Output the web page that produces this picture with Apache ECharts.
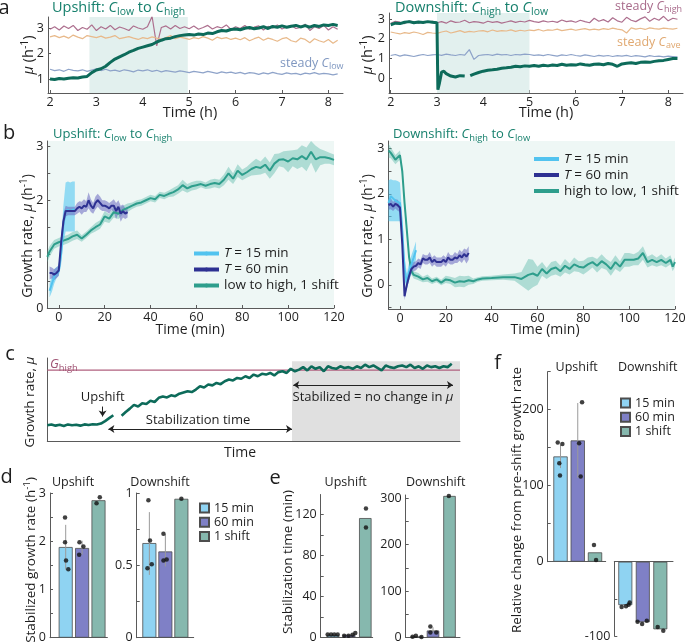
<!DOCTYPE html>
<html><head><meta charset="utf-8">
<script src="https://cdn.jsdelivr.net/npm/echarts@6/dist/echarts.min.js"></script>
<style>html,body{margin:0;padding:0;background:#fff}#c{width:685px;height:642px}</style>
</head><body><div id="c"></div><script>
const FONT = "'Open Sans','Noto Sans','DejaVu Sans',sans-serif";
const INK = '#1e1e1e', AX = '#5a5a5a', TEAL_T = '#17806d';

// ---------- panel a data ----------
const aTime = [2.0,2.1,2.2,2.3,2.4,2.5,2.6,2.7,2.8,2.9,3.0,3.1,3.2,3.3,3.4,3.5,3.6,3.7,3.8,3.9,4.0,4.1,4.2,4.3,4.4,4.5,4.6,4.7,4.8,4.9,5.0,5.1,5.2,5.3,5.4,5.5,5.6,5.7,5.8,5.9,6.0,6.1,6.2,6.3,6.4,6.5,6.6,6.7,6.8,6.9,7.0,7.1,7.2,7.3,7.4,7.5,7.6,7.7,7.8,7.9,8.0,8.1,8.2];
const hTicks = [2,3,4,5,6,7,8];
const upSteadyHigh = [2.95,3.05,2.92,3.08,2.98,3.1,2.9,3.02,2.95,3.12,2.9,3.05,2.96,3.1,2.93,3.04,2.98,2.9,3.08,3.0,2.95,3.05,3.45,2.3,3.02,3.08,2.96,3.1,2.98,3.05,2.97,3.08,2.95,3.02,3.1,2.96,3.05,3.0,3.12,2.94,3.05,2.98,3.1,2.95,3.03,3.08,2.92,3.06,3.0,3.12,2.96,3.04,3.1,2.98,3.02,3.15,2.9,3.05,2.98,3.1,2.92,3.05,2.95];
const upSteadyAve = [2.65,2.7,2.62,2.68,2.6,2.72,2.64,2.58,2.7,2.66,2.62,2.68,2.6,2.64,2.7,2.58,2.62,2.66,2.6,2.55,2.62,2.58,2.65,2.6,2.55,2.62,2.7,2.58,2.64,2.6,2.55,2.62,2.58,2.66,2.6,2.52,2.64,2.58,2.62,2.55,2.6,2.54,2.62,2.5,2.58,2.64,2.52,2.6,2.55,2.48,2.58,2.62,2.5,2.45,2.6,2.55,2.42,2.58,2.5,2.44,2.55,2.4,2.52];
const upSteadyLow = [1.38,1.33,1.36,1.3,1.38,1.34,1.32,1.36,1.3,1.35,1.4,1.33,1.38,1.32,1.35,1.3,1.36,1.33,1.28,1.35,1.32,1.36,1.3,1.34,1.28,1.33,1.3,1.27,1.32,1.29,1.25,1.3,1.27,1.24,1.3,1.26,1.22,1.28,1.24,1.27,1.22,1.26,1.2,1.25,1.23,1.18,1.24,1.2,1.26,1.21,1.18,1.24,1.2,1.22,1.17,1.23,1.2,1.25,1.19,1.22,1.2,1.16,1.2];
const upMain = [1.0,0.98,1.02,1.0,1.03,1.05,1.04,1.08,1.1,1.25,1.35,1.4,1.5,1.65,1.78,1.87,1.95,2.05,2.12,2.2,2.25,2.3,2.35,2.45,2.52,2.58,2.6,2.66,2.7,2.72,2.74,2.72,2.76,2.74,2.8,2.78,2.85,2.9,2.88,2.94,2.96,2.93,2.99,3.02,2.97,3.0,3.05,2.98,3.06,3.03,3.08,3.03,3.07,3.1,3.04,3.09,3.03,3.1,3.06,3.12,3.1,3.14,3.1];
const dnSteadyHigh = [2.8,2.9,2.85,2.78,2.92,2.86,2.8,2.88,2.84,2.9,2.82,2.88,2.8,2.92,2.84,2.86,2.95,2.82,2.88,2.85,2.8,2.9,2.84,2.88,2.8,2.86,2.92,2.84,2.9,2.86,2.94,2.88,2.84,2.92,2.86,2.9,2.84,2.96,2.88,2.92,2.85,2.95,2.88,2.82,3.05,2.9,2.98,2.86,3.08,2.92,2.85,3.1,2.95,2.88,3.02,3.12,2.9,3.05,2.95,3.15,2.92,3.05,3.0];
const dnSteadyAve = [2.35,2.3,2.25,2.32,2.28,2.35,2.3,2.22,2.33,2.3,2.28,2.35,2.4,2.3,2.36,2.42,2.33,2.38,2.35,2.4,2.42,2.36,2.45,2.38,2.42,2.4,2.46,2.38,2.44,2.4,2.45,2.42,2.48,2.4,2.46,2.44,2.5,2.42,2.46,2.5,2.44,2.48,2.52,2.46,2.5,2.46,2.52,2.48,2.55,2.5,2.46,2.3,2.56,2.5,2.54,2.48,2.56,2.52,2.5,2.55,2.52,2.5,2.54];
const dnSteadyLow = [1.15,1.2,1.12,1.18,1.14,1.1,1.16,1.2,1.15,1.18,1.2,1.16,1.22,1.18,1.15,1.2,1.17,1.45,0.95,1.15,1.18,1.2,1.16,1.22,1.18,1.2,1.15,1.2,1.18,1.22,1.2,1.16,1.18,1.14,1.2,1.16,1.12,1.18,1.15,1.2,1.15,1.12,1.18,1.14,1.1,1.16,1.12,1.15,1.1,1.14,1.12,1.16,1.1,1.14,1.12,1.08,1.14,1.1,1.12,1.08,1.12,1.1,1.08];
const downT = [2.0,2.1,2.2,2.3,2.4,2.5,2.6,2.7,2.8,2.9,3.0,3.02,3.05,3.1,3.15,3.2,3.3,3.4,3.5,3.6,3.66,3.72,3.8,3.9,4.0,4.1,4.2,4.3,4.4,4.5,4.6,4.7,4.8,4.9,5.0,5.1,5.2,5.3,5.4,5.5,5.6,5.7,5.8,5.9,6.0,6.1,6.2,6.3,6.4,6.5,6.6,6.7,6.8,6.9,7.0,7.1,7.2,7.3,7.4,7.5,7.6,7.7,7.8,7.9,8.0,8.1,8.2];
const downMain = [2.72,2.8,2.78,2.85,2.88,2.82,2.86,2.84,2.88,2.85,2.82,-0.6,-0.3,0.3,0.35,0.22,0.1,0.05,0.12,0.1,null,0.12,0.2,0.28,0.35,0.4,0.42,0.45,0.5,0.52,0.55,0.6,0.58,0.62,0.6,0.64,0.6,0.65,0.62,0.66,0.64,0.7,0.65,0.68,0.66,0.72,0.68,0.65,0.7,0.72,0.68,0.74,0.7,0.6,0.72,0.75,0.78,0.74,0.8,0.82,0.8,0.85,0.88,0.9,0.95,1.0,1.0];
const aUpShade = [2.85, 4.97], aDnShade = [3.0, 5.0];

// ---------- panel b data ----------
const minTicks = [0,20,40,60,80,100,120];
const upOneT = [-5,-4,-2,0,2,4,6,8,10,12,14,16,18,20,22,24,26,28,30,32,34,36,38,40,42,44,46,48,50,52,54,56,58,60,62,64,66,68,70,72,74,76,78,80,82,84,86,88,90,92,94,96,98,100,102,104,106,108,110,112,114,116,118,120];
const upOneMu = [0.95,1.05,1.18,1.22,1.25,1.28,1.33,1.36,1.29,1.36,1.44,1.5,1.55,1.7,1.66,1.78,1.75,1.82,1.86,1.9,1.94,1.96,2.0,2.04,2.02,2.1,2.08,2.12,2.15,2.2,2.28,2.22,2.26,2.28,2.3,2.27,2.3,2.32,2.3,2.38,2.5,2.4,2.55,2.47,2.52,2.58,2.62,2.6,2.66,2.55,2.68,2.75,2.76,2.72,2.78,2.76,2.82,2.76,2.9,2.76,2.8,2.8,2.78,2.75];
const upOneSem = [0.1,0.1,0.08,0.08,0.08,0.08,0.08,0.08,0.06,0.06,0.06,0.08,0.08,0.1,0.08,0.1,0.1,0.08,0.08,0.06,0.06,0.06,0.06,0.06,0.06,0.06,0.06,0.06,0.08,0.08,0.1,0.08,0.08,0.08,0.06,0.06,0.08,0.08,0.08,0.1,0.12,0.1,0.12,0.1,0.1,0.12,0.15,0.12,0.15,0.15,0.18,0.12,0.15,0.2,0.15,0.18,0.2,0.22,0.2,0.25,0.15,0.12,0.1,0.1];
const t15UpT = [-4,-3,-2,-1,0,1,2,3,4,5,6,7];
const t15UpMu = [0.32,0.45,0.58,0.64,0.68,1.0,1.55,1.8,1.82,1.8,1.82,1.83];
const t15UpLo = [0.2,0.3,0.45,0.55,0.6,0.8,1.2,1.42,1.42,1.42,1.42,1.42];
const t15UpHi = [0.45,0.6,0.72,0.76,0.78,1.2,1.9,2.33,2.35,2.33,2.35,2.35];
const t60UpT = [-4,-3,-2,-1,0,1,2,3,4,5,6,7,8,9,10,11,12,13,14,15,16,17,18,19,20,21,22,23,24,25,26,27,28,29,30];
const t60UpMu = [0.65,0.65,0.62,0.65,0.7,1.2,1.6,1.8,1.8,1.8,1.8,1.8,1.85,1.88,1.85,1.9,1.88,2.0,1.9,1.85,1.95,2.0,1.95,1.9,1.9,1.88,1.85,1.9,1.9,1.8,1.88,1.75,1.8,1.75,1.78];
const t60UpSem = [0.12,0.1,0.1,0.1,0.1,0.15,0.15,0.1,0.08,0.08,0.08,0.08,0.1,0.1,0.12,0.12,0.1,0.15,0.12,0.1,0.12,0.12,0.12,0.1,0.1,0.1,0.1,0.08,0.12,0.15,0.12,0.15,0.12,0.1,0.1];
const downOneT = [-5,-4,-2,0,1,2,3,4,5,6,8,10,12,14,16,18,20,22,24,26,28,30,32,34,36,40,45,50,53,56,58,60,62,64,66,68,70,72,74,76,78,80,82,84,86,88,90,92,94,96,98,100,102,104,106,108,110,112,114,116,118,119,120];
const downOneMu = [2.95,2.9,2.75,2.85,2.5,1.8,1.2,0.6,0.3,0.22,0.18,0.12,0.15,0.08,0.12,0.05,0.12,0.1,0.05,0.08,0.07,0.1,0.08,0.12,0.14,0.15,0.17,0.17,0.13,0.22,0.25,0.2,0.35,0.25,0.35,0.38,0.3,0.42,0.35,0.45,0.4,0.38,0.45,0.5,0.42,0.52,0.45,0.35,0.5,0.4,0.55,0.55,0.55,0.58,0.7,0.5,0.55,0.5,0.55,0.48,0.55,0.4,0.5];
const downOneSem = [0.15,0.12,0.1,0.1,0.1,0.1,0.1,0.1,0.08,0.08,0.08,0.06,0.08,0.06,0.06,0.06,0.08,0.08,0.1,0.12,0.12,0.1,0.06,0.05,0.05,0.05,0.06,0.08,0.15,0.35,0.3,0.2,0.15,0.12,0.15,0.15,0.12,0.15,0.12,0.15,0.12,0.15,0.15,0.12,0.15,0.15,0.12,0.15,0.15,0.12,0.15,0.15,0.12,0.15,0.15,0.12,0.12,0.1,0.12,0.1,0.1,0.1,0.1];
const t15DnT = [-5,-4,-3,-2,-1,0,1,2,3,4,5,6,7];
const t15DnMu = [1.8,1.95,1.9,1.85,1.82,1.8,1.2,0.35,0.05,0.3,0.45,0.6,0.76];
const t15DnLo = [1.4,1.4,1.4,1.4,1.4,1.4,0.9,0.1,-0.1,0.1,0.25,0.4,0.55];
const t15DnHi = [2.3,2.32,2.3,2.3,2.28,2.25,1.5,0.6,0.25,0.5,0.65,0.8,0.95];
const t60DnT = [-5,-4,-3,-2,-1,0,1,2,3,4,5,6,7,8,9,10,11,12,13,14,15,16,17,18,19,20,21,22,23,24,25,26,27,28,29,30];
const t60DnMu = [1.75,1.78,1.72,1.78,1.75,1.7,0.9,-0.25,0.0,0.2,0.35,0.4,0.42,0.48,0.45,0.58,0.55,0.55,0.6,0.5,0.55,0.5,0.5,0.5,0.55,0.5,0.6,0.55,0.55,0.6,0.58,0.65,0.6,0.68,0.62,0.7];
const t60DnSem = [0.1,0.12,0.1,0.1,0.12,0.1,0.1,0.08,0.08,0.1,0.1,0.1,0.1,0.1,0.1,0.1,0.1,0.1,0.12,0.1,0.1,0.1,0.1,0.1,0.1,0.1,0.12,0.1,0.1,0.12,0.1,0.12,0.12,0.12,0.15,0.15];

// ---------- panel c data (schematic, sample index on x) ----------
const cMu = [1.9,2.0,1.85,1.95,1.8,2.0,1.9,1.95,1.85,2.0,1.92,2.02,1.98,2.1,2.4,2.75,3.1,null,3.05,3.5,3.9,4.35,4.15,4.55,4.45,4.85,4.7,5.2,5.35,5.25,5.5,5.4,5.7,5.85,6.0,5.9,6.2,6.6,6.45,6.8,6.7,7.0,6.85,7.2,7.4,7.3,7.6,7.5,7.8,7.6,8.0,7.8,8.1,8.0,8.2,7.9,8.3,8.4,8.2,8.7,8.4,8.6,8.9,8.5,9.0,8.7,8.9,8.4,9.0,8.8,8.7,9.0,8.8,8.9,8.7,9.0,8.8,9.2,8.9,9.1,8.8,8.5,9.1,8.9,8.8,9.0,9.1,8.9,9.2,8.8,9.0,8.7,9.1,8.9,9.0,8.8,9.0,8.9,9.3];
const gHighLevel = 8.55;
const stabStart = 59.3;

// ---------- panels d, e, f data ----------
const condNames = ['15 min','60 min','1 shift'];
const dUpMean = [1.88,1.86,2.85], dUpLo = [1.41,1.72,null], dUpHi = [2.34,2.01,null];
const dUpDots = [[2.49,1.98,1.6,1.42],[1.98,1.72,1.89],[2.79,2.91]];
const dDnMean = [0.654,0.596,0.96], dDnLo = [0.434,0.492,null], dDnHi = [0.868,0.716,null];
const dDnDots = [[0.95,0.672,0.48,0.508],[0.718,0.533,0.54],[0.96]];
const eUpMean = [2.5,2.6,116.5], eUpLo = [null,null,null], eUpHi = [null,null,null];
const eUpDots = [[2.9,2.9,2.9,2.9],[1.6,1.6,2.6,4.5],[125.9,107.3]];
const eDnMean = [2.2,15,305], eDnLo = [null,10,null], eDnHi = [null,22,null];
const eDnDots = [[1.5,4,1],[23.6,10.7,10.7],[305]];
const fUpMean = [138.5,159.6,12.3], fUpLo = [123.2,110.4,null], fUpHi = [153.8,208.8,null];
const fUpDots = [[157,155,129.7,113.4],[209.7,156,112],[22,2.2]];
const fDnMean = [-58.5,-81.4,-91], fDnLo = [null,null,null], fDnHi = [null,null,null];
const fDnDots = [[-61,-60,-58,-55],[-80.7,-84,-79.4],[-88,-93]];

// ---------- styling ----------
const condColors = ['#8fd3f2','#7f80c6','#86b8ae'];
const C_UP = '#0d6b5a';
const C_PINK = '#ad6f8e', C_ORNG = '#e8b98a', C_BLUE = '#8ea3c9';
const C_TEAL = '#2e9e8c', C_T15 = '#52c3ef', C_T60 = '#2e3192';

const grids = [
  {left:48, top:17, width:295, height:76},
  {left:389, top:13, width:294, height:80},
  {left:47.3, top:141, width:286.7, height:167, show:true, backgroundColor:'#eef7f5', borderWidth:0},
  {left:388.5, top:141, width:286.5, height:168, show:true, backgroundColor:'#eef7f5', borderWidth:0},
  {left:47.3, top:358, width:412.7, height:83},
  {left:50, top:493, width:57.4, height:144.7},
  {left:136.7, top:493, width:57, height:144.7},
  {left:320.7, top:494.5, width:52, height:143},
  {left:405.7, top:495, width:54.3, height:142.5},
  {left:547.7, top:371.7, width:58, height:190},
  {left:614.3, top:561.7, width:58.7, height:74.3}
].map(g => Object.assign({outerBoundsMode:'none', containLabel:false}, g));

function axis(gi, o) {
  const a = {gridIndex:gi, type:'value', splitLine:{show:false},
    axisLine:{show:true, onZero:false, lineStyle:{color:AX, width:1}},
    axisTick:{show:true, inside:true, length:3, lineStyle:{color:AX}},
    axisLabel:{show:true, color:INK, fontSize:12.5, fontFamily:FONT, margin:4}};
  for (const k in o) {
    if (a[k] && typeof a[k] === 'object' && typeof o[k] === 'object' && !Array.isArray(o[k])) Object.assign(a[k], o[k]);
    else a[k] = o[k];
  }
  return a;
}
const noTL = {axisTick:{show:false}, axisLabel:{show:false}};
const xAx = [
  axis(0, {min:1.957, max:8.315, axisTick:{customValues:hTicks}, axisLabel:{customValues:hTicks, margin:3}}),
  axis(1, {min:1.963, max:8.32, axisTick:{customValues:hTicks}, axisLabel:{customValues:hTicks, margin:3}}),
  axis(2, {min:-5, max:120, axisTick:{customValues:minTicks}, axisLabel:{customValues:minTicks, margin:3}}),
  axis(3, {min:-5, max:120, axisTick:{customValues:minTicks}, axisLabel:{customValues:minTicks, margin:3}}),
  axis(4, Object.assign({min:0, max:100}, noTL)),
  axis(5, Object.assign({min:0.043, max:3.543}, noTL)),
  axis(6, Object.assign({min:0.209, max:3.77}, noTL)),
  axis(7, Object.assign({min:0.238, max:3.458}, noTL)),
  axis(8, Object.assign({min:0.345, max:3.636}, noTL)),
  axis(9, Object.assign({min:0.258, max:3.62}, noTL)),
  axis(10, Object.assign({min:0.371, max:3.725, position:'top'}, noTL))
];
const yAx = [
  axis(0, {min:0.45, max:3.43, axisTick:{customValues:[1,2,3]}, axisLabel:{customValues:[1,2,3]}}),
  axis(1, {min:-0.765, max:3.32, axisTick:{customValues:[0,1,2,3]}, axisLabel:{customValues:[0,1,2,3]}}),
  axis(2, {min:0, max:3.1, axisTick:{customValues:[0,0.5,1,1.5,2,2.5,3]}, axisLabel:{customValues:[0,1,2,3]}}),
  axis(3, {min:-0.53, max:3.16, axisTick:{customValues:[-0.5,0,0.5,1,1.5,2,2.5,3]}, axisLabel:{customValues:[0,1,2,3]}}),
  axis(4, Object.assign({min:0, max:10}, noTL)),
  axis(5, {min:0, max:3, axisTick:{customValues:[0,0.5,1,1.5,2,2.5,3]}, axisLabel:{customValues:[0,1,2,3]}}),
  axis(6, {min:0, max:1, axisTick:{customValues:[0,0.25,0.5,0.75,1]}, axisLabel:{customValues:[0,0.5,1]}}),
  axis(7, {min:0, max:139.5, axisTick:{customValues:[0,20,40,60,80,100,120]}, axisLabel:{customValues:[0,40,80,120]}}),
  axis(8, {min:0, max:307, axisTick:{customValues:[0,50,100,150,200,250,300]}, axisLabel:{customValues:[0,100,200,300]}}),
  axis(9, {min:0, max:250, axisTick:{customValues:[0,50,100,150,200,250]}, axisLabel:{customValues:[0,100,200]}}),
  axis(10, {min:-100, max:0, axisTick:{customValues:[-100,-50,0]}, axisLabel:{customValues:[-100]}})
];

const series = [];
function line(gi, xs, ys, color, width, extra) {
  return Object.assign({type:'line', xAxisIndex:gi, yAxisIndex:gi, symbol:'none', showSymbol:false, silent:true,
    connectNulls:false, lineStyle:{color, width}, itemStyle:{color}, z:2,
    data: xs.map((x,i)=>[x, ys[i]])}, extra || {});
}
function band(gi, xs, lo, hi, color, opacity) {
  return {type:'custom', xAxisIndex:gi, yAxisIndex:gi, silent:true, clip:true, z:1,
    data: xs.map((x,i)=>[x, lo[i], hi[i]]), encode:{x:0, y:[1,2]},
    renderItem: (params, api) => {
      if (params.dataIndex !== 0) return null;
      const pts = [];
      for (let i=0;i<xs.length;i++) pts.push(api.coord([xs[i], lo[i]]));
      for (let i=xs.length-1;i>=0;i--) pts.push(api.coord([xs[i], hi[i]]));
      return {type:'polygon', shape:{points:pts}, style:{fill:color, opacity:opacity}};
    }};
}
const minus = (m,s)=>m.map((v,i)=>v-s[i]), plus = (m,s)=>m.map((v,i)=>v+s[i]);

// a-left
series.push(line(0, aTime, upSteadyHigh, C_PINK, 1.2, {markArea:{silent:true, itemStyle:{color:'#e2f0ee'}, data:[[{xAxis:aUpShade[0]},{xAxis:aUpShade[1]}]]}}));
series.push(line(0, aTime, upSteadyAve, C_ORNG, 1.2));
series.push(line(0, aTime, upSteadyLow, C_BLUE, 1.2));
series.push(line(0, aTime, upMain, C_UP, 3, {z:3}));
// a-right
series.push(line(1, aTime, dnSteadyHigh, C_PINK, 1.2, {markArea:{silent:true, itemStyle:{color:'#e2f0ee'}, data:[[{xAxis:aDnShade[0]},{xAxis:aDnShade[1]}]]}}));
series.push(line(1, aTime, dnSteadyAve, C_ORNG, 1.2));
series.push(line(1, aTime, dnSteadyLow, C_BLUE, 1.2));
series.push(line(1, downT, downMain, C_UP, 3, {z:3}));
// b-left
series.push(band(2, upOneT, minus(upOneMu,upOneSem), plus(upOneMu,upOneSem), '#4db5a3', 0.4));
series.push(line(2, upOneT, upOneMu, C_TEAL, 2, {name:'low to high, 1 shift'}));
series.push(band(2, t15UpT, t15UpLo, t15UpHi, '#55c8f2', 0.6));
series.push(band(2, t60UpT, minus(t60UpMu,t60UpSem), plus(t60UpMu,t60UpSem), '#6a68c0', 0.55));
series.push(line(2, t15UpT, t15UpMu, C_T15, 2, {name:'T = 15 min', z:3}));
series.push(line(2, t60UpT, t60UpMu, C_T60, 2, {name:'T = 60 min', z:4}));
// b-right
series.push(band(3, downOneT, minus(downOneMu,downOneSem), plus(downOneMu,downOneSem), '#4db5a3', 0.4));
series.push(line(3, downOneT, downOneMu, C_TEAL, 2, {name:'high to low, 1 shift'}));
series.push(band(3, t15DnT, t15DnLo, t15DnHi, '#55c8f2', 0.6));
series.push(band(3, t60DnT, minus(t60DnMu,t60DnSem), plus(t60DnMu,t60DnSem), '#6a68c0', 0.55));
series.push(line(3, t15DnT, t15DnMu, C_T15, 2, {name:'T = 15 min', z:3}));
series.push(line(3, t60DnT, t60DnMu, C_T60, 2, {name:'T = 60 min', z:4}));
// c
const cIdx = cMu.map((v,i)=>i);
series.push(line(4, [0,100], [null,null], '#000', 0, {z:0, markArea:{silent:true, itemStyle:{color:'#e0e0e0'}, data:[[{xAxis:stabStart, yAxis:0},{xAxis:100, yAxis:9.6}]]}}));
series.push(line(4, [0,100], [gHighLevel,gHighLevel], '#b0607f', 1.2, {z:1,
  markLine:{silent:true, symbolSize:6, label:{show:false}, lineStyle:{color:'#222', width:1, type:'solid'},
    data:[
      [{coord:[13.4,4.15], symbol:'none'},{coord:[13.4,2.95], symbol:'arrow'}],
      [{coord:[14.8,1.45], symbol:'arrow'},{coord:[stabStart,1.45], symbol:'arrow'}],
      [{coord:[59.6,6.75], symbol:'arrow'},{coord:[98.3,6.75], symbol:'arrow'}]
    ]}}));
series.push(line(4, cIdx, cMu, C_UP, 2.6, {z:3}));

// bar panels
function barPanel(gi, means, lo, hi, dots, jit, bw) {
  condNames.forEach((nm,k)=>{
    series.push({type:'bar', name:nm, xAxisIndex:gi, yAxisIndex:gi, barWidth:bw, barGap:'-100%', silent:true, z:2,
      data:[[k+1, means[k]]], itemStyle:{color:condColors[k], borderColor:'#4d4d4d', borderWidth:0.8}});
  });
  const eb = [];
  means.forEach((m,k)=>{ if (lo[k]!=null) eb.push([k+1, lo[k], hi[k]]); });
  if (eb.length) series.push({type:'custom', xAxisIndex:gi, yAxisIndex:gi, silent:true, z:3, data:eb, encode:{x:0, y:[1,2]},
    renderItem:(p,api)=>{ const a=api.coord([api.value(0),api.value(1)]), b=api.coord([api.value(0),api.value(2)]);
      return {type:'line', shape:{x1:a[0],y1:a[1],x2:b[0],y2:b[1]}, style:{stroke:'#9a9a9a', lineWidth:1}}; }});
  const pts = [];
  dots.forEach((arr,k)=>arr.forEach((v,j)=>pts.push([k+1+jit[k][j], v])));
  series.push({type:'scatter', xAxisIndex:gi, yAxisIndex:gi, silent:true, z:4, data:pts, symbolSize:4.5, itemStyle:{color:'#111'}});
}
barPanel(5, dUpMean, dUpLo, dUpHi, dUpDots, [[-0.04,-0.04,0.02,0.16],[-0.16,-0.18,0.08],[-0.12,0.08]], 14);
barPanel(6, dDnMean, dDnLo, dDnHi, dDnDots, [[-0.06,0.04,-0.12,0.15],[-0.12,-0.12,0.08],[0]], 14);
barPanel(7, eUpMean, eUpLo, eUpHi, eUpDots, [[-0.33,-0.12,0.08,0.29],[-0.31,-0.04,0.21,0.38],[0.04,0.04]], 12.5);
barPanel(8, eDnMean, eDnLo, eDnHi, eDnDots, [[-0.24,-0.04,0.3],[-0.16,-0.16,0.2],[-0.04]], 12.5);
barPanel(9, fUpMean, fUpLo, fUpHi, fUpDots, [[-0.16,0.11,-0.07,-0.03],[0.25,0.08,0.17],[-0.06,0.06]], 14.3);
barPanel(10, fDnMean, fDnLo, fDnHi, fDnDots, [[-0.21,0.04,0.19,0.25],[-0.3,-0.04,0.23],[-0.15,0.17]], 14);

// legends
const legRich = {i:{fontStyle:'italic', fontSize:13.5, fontFamily:FONT, color:INK}};
const legFmt = n => n.charAt(0) === 'T' ? '{i|T}' + n.slice(1) : n;
function lineLegend(left, top, names) {
  return {left, top, orient:'vertical', padding:0, itemGap:0, itemWidth:25, itemHeight:5, selectedMode:false,
    lineStyle:{width:4}, data:names, formatter:legFmt,
    textStyle:{fontSize:13.5, lineHeight:16, color:INK, fontFamily:FONT, rich:legRich}};
}
function boxLegend(left, top) {
  return {left, top, orient:'vertical', padding:0, itemGap:0, itemWidth:9, itemHeight:9, icon:'rect', selectedMode:false,
    data:condNames, textStyle:{fontSize:12.5, lineHeight:14.2, color:INK, fontFamily:FONT}};
}
const legends = [
  lineLegend(192, 245.5, ['T = 15 min','T = 60 min','low to high, 1 shift']),
  lineLegend(532, 151, ['T = 15 min','T = 60 min','high to low, 1 shift']),
  boxLegend(199, 501),
  boxLegend(620, 396)
];

// text
function rich(size, color) {
  return {
    n:{fontSize:size, fontFamily:FONT, fill:color, lineHeight:size+4},
    i:{fontSize:size, fontFamily:FONT, fontStyle:'italic', fill:color, lineHeight:size+4},
    s:{fontSize:size*0.72, fontFamily:FONT, fill:color, verticalAlign:'bottom', lineHeight:size*0.5},
    p:{fontSize:size*0.72, fontFamily:FONT, fill:color, verticalAlign:'top', lineHeight:size*0.5}
  };
}
function T(x, y, text, o) {
  o = o || {};
  const size = o.size || 13.5, color = o.color || INK;
  return {type:'text', x, y, rotation:o.rot || 0, silent:true, z:100,
    style:{text, fontSize:size, fontFamily:FONT, fill:color, align:o.align || 'center', verticalAlign:'middle', rich:rich(size, color)}};
}
const R90 = Math.PI/2;
const gfx = [
  T(4, 8, '{n|a}', {size:20}), T(9, 133, '{n|b}', {size:20}), T(10, 354, '{n|c}', {size:20}),
  T(6.5, 477, '{n|d}', {size:20}), T(275, 478, '{n|e}', {size:20}), T(497.5, 363, '{n|f}', {size:20}),
  // a
  T(52, 8, '{n|Upshift: }{i|C}{s|low}{n| to }{i|C}{s|high}', {size:14.5, color:TEAL_T, align:'left'}),
  T(395, 8, '{n|Downshift: }{i|C}{s|high}{n| to }{i|C}{s|low}', {size:14.5, color:TEAL_T, align:'left'}),
  T(280, 63, '{n|steady }{i|C}{s|low}', {size:12.5, color:'#7f97c0', align:'left'}),
  T(615, 6, '{n|steady }{i|C}{s|high}', {size:12.5, color:'#a86a8a', align:'left'}),
  T(617, 42, '{n|steady }{i|C}{s|ave}', {size:12.5, color:'#e0a870', align:'left'}),
  T(29, 55, '{i|μ}{n| (h}{p|-1}{n|)}', {size:14.5, rot:R90}),
  T(368, 55, '{i|μ}{n| (h}{p|-1}{n|)}', {size:14.5, rot:R90}),
  T(190, 113, '{n|Time (h)}', {size:14.5}),
  T(546, 113, '{n|Time (h)}', {size:14.5}),
  // b
  T(53, 134, '{n|Upshift: }{i|C}{s|low}{n| to }{i|C}{s|high}', {size:13, color:TEAL_T, align:'left'}),
  T(393, 134, '{n|Downshift: }{i|C}{s|high}{n| to }{i|C}{s|low}', {size:13, color:TEAL_T, align:'left'}),
  T(28, 236, '{n|Growth rate, }{i|μ}{n| (h}{p|-1}{n|)}', {size:14, rot:R90}),
  T(368, 236, '{n|Growth rate, }{i|μ}{n| (h}{p|-1}{n|)}', {size:14, rot:R90}),
  T(190, 330, '{n|Time (min)}', {size:14}),
  T(545, 330, '{n|Time (min)}', {size:14}),
  // c
  T(50, 364, '{i|G}{s|high}', {size:13, color:'#a05575', align:'left'}),
  T(30, 402, '{n|Growth rate, }{i|μ}', {size:13.5, rot:R90}),
  T(240, 453, '{n|Time}', {size:14}),
  T(102.7, 397, '{n|Upshift}', {size:13}),
  T(198, 420, '{n|Stabilization time}', {size:13}),
  T(373, 397, '{n|Stabilized = no change in }{i|μ}', {size:13}),
  // d
  T(73, 482, '{n|Upshift}', {size:12.5}), T(160, 482, '{n|Downshift}', {size:12.5}),
  T(31, 560, '{n|Stabilized growth rate (h}{p|-1}{n|)}', {size:13.5, rot:R90}),
  // e
  T(345.7, 482, '{n|Upshift}', {size:12.5}), T(435.7, 482, '{n|Downshift}', {size:12.5}),
  T(288, 562, '{n|Stabilization time (min)}', {size:13.5, rot:R90}),
  // f
  T(576.7, 367, '{n|Upshift}', {size:12.5}), T(647.7, 367, '{n|Downshift}', {size:12.5}),
  T(517, 500, '{n|Relative change from pre-shift growth rate}', {size:13.5, rot:R90})
];

const chart = echarts.init(document.getElementById('c'), null, {renderer:'canvas'});
chart.setOption({
  animation:false, backgroundColor:'#fff',
  textStyle:{fontFamily:FONT},
  grid:grids, xAxis:xAx, yAxis:yAx, series, legend:legends, graphic:gfx
});
</script></body></html>
